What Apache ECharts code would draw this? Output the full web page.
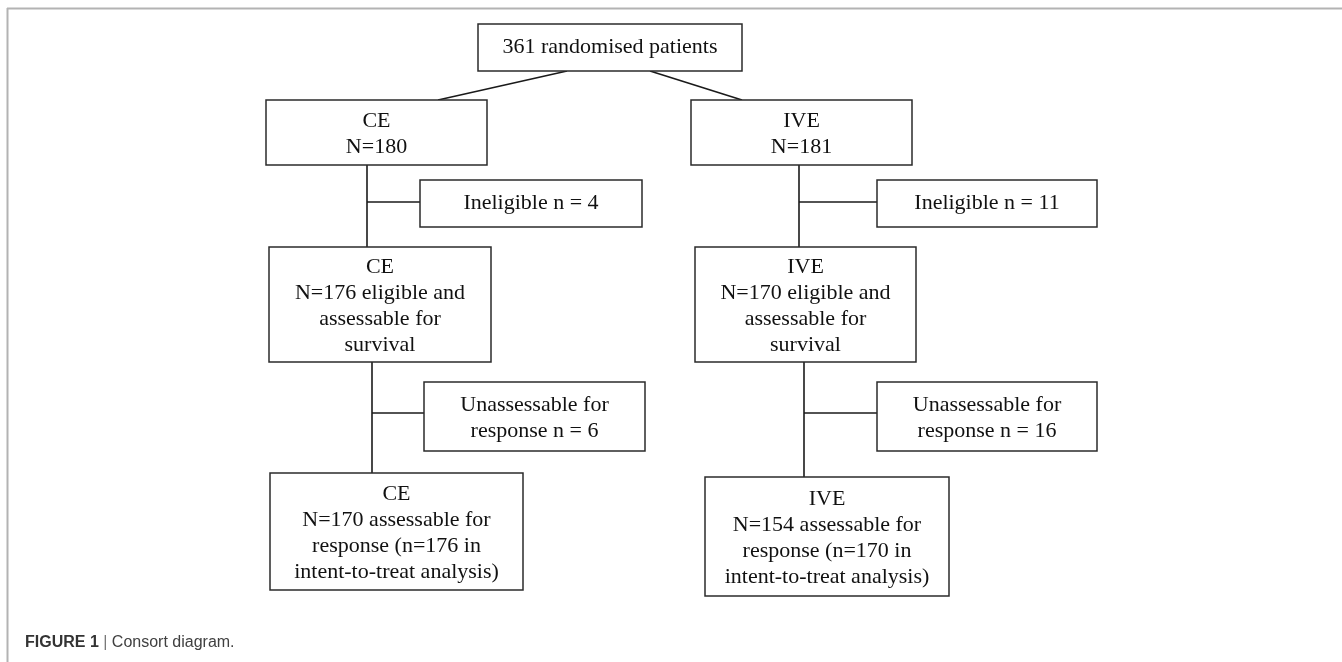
<!DOCTYPE html>
<html>
<head>
<meta charset="utf-8">
<script src="https://cdn.jsdelivr.net/npm/echarts@6/dist/echarts.min.js"></script>
<style>
html,body{margin:0;padding:0;background:#fff;}
#chart{width:1342px;height:662px;}
</style>
</head>
<body>
<div id="chart"></div>
<script>
// ---- data (content of the consort diagram) ----
const armNames = ['CE', 'IVE'];
const randomised = 361;
const allocated = [180, 181];
const ineligible = [4, 11];
const eligible = [176, 170];
const unassessable = [6, 16];
const assessable = [170, 154];
const intentToTreat = [176, 170];
const captionLabel = 'FIGURE 1';
const captionText = 'Consort diagram.';

// ---- box texts built from data ----
const boxTexts = [
  randomised + ' randomised patients',
  armNames[0] + '\nN=' + allocated[0],
  armNames[1] + '\nN=' + allocated[1],
  'Ineligible n = ' + ineligible[0],
  'Ineligible n = ' + ineligible[1],
  armNames[0] + '\nN=' + eligible[0] + ' eligible and\nassessable for\nsurvival',
  armNames[1] + '\nN=' + eligible[1] + ' eligible and\nassessable for\nsurvival',
  'Unassessable for\nresponse n = ' + unassessable[0],
  'Unassessable for\nresponse n = ' + unassessable[1],
  armNames[0] + '\nN=' + assessable[0] + ' assessable for\nresponse (n=' + intentToTreat[0] + ' in\nintent-to-treat analysis)',
  armNames[1] + '\nN=' + assessable[1] + ' assessable for\nresponse (n=' + intentToTreat[1] + ' in\nintent-to-treat analysis)'
];

// ---- layout (diagram coordinates: left, top, right, bottom) ----
const boxLayout = [
  [478, 24, 742, 71],
  [266, 100, 487, 165],
  [691, 100, 912, 165],
  [420, 180, 642, 227],
  [877, 180, 1097, 227],
  [269, 247, 491, 362],
  [695, 247, 916, 362],
  [424, 382, 645, 451],
  [877, 382, 1097, 451],
  [270, 473, 523, 590],
  [705, 477, 949, 596]
];
const connectorLayout = [
  [567, 71, 438, 100],
  [650, 71, 742, 100],
  [367, 165, 367, 247],
  [367, 202, 420, 202],
  [372, 362, 372, 473],
  [372, 413, 424, 413],
  [799, 165, 799, 247],
  [799, 202, 877, 202],
  [804, 362, 804, 477],
  [804, 413, 877, 413]
];
const frameLayout = [
  [7, 8.5, 1342, 8.5],
  [7.5, 8, 7.5, 662]
];

const boxData = boxLayout.map((b, i) => ({ value: b, text: boxTexts[i] }));

const chart = echarts.init(document.getElementById('chart'), null, { renderer: 'canvas' });
chart.setOption({
  animation: false,
  backgroundColor: '#ffffff',
  title: {
    text: '{b|' + captionLabel + '} {s||} {n|' + captionText + '}',
    left: 20,
    top: 630,
    textStyle: {
      fontWeight: 'normal',
      fontSize: 16,
      fontFamily: 'Liberation Sans',
      rich: {
        b: { fontFamily: 'Liberation Sans', fontWeight: 'bold', fontSize: 16, color: '#333333' },
        s: { fontFamily: 'Liberation Sans', fontWeight: 'normal', fontSize: 16, color: '#777777' },
        n: { fontFamily: 'Liberation Sans', fontWeight: 'normal', fontSize: 16, color: '#404040' }
      }
    }
  },
  grid: { left: 0, right: 0, top: 0, bottom: 0 },
  xAxis: { type: 'value', min: 0, max: 1342, show: false },
  yAxis: { type: 'value', min: 0, max: 662, inverse: true, show: false },
  series: [
    {
      type: 'custom',
      name: 'frame',
      silent: true,
      data: frameLayout,
      renderItem: function (params, api) {
        const p1 = api.coord([api.value(0), api.value(1)]);
        const p2 = api.coord([api.value(2), api.value(3)]);
        return {
          type: 'line',
          shape: { x1: p1[0], y1: p1[1], x2: p2[0], y2: p2[1] },
          style: { stroke: '#b3b3b3', lineWidth: 2 }
        };
      }
    },
    {
      type: 'custom',
      name: 'connectors',
      silent: true,
      data: connectorLayout,
      renderItem: function (params, api) {
        const p1 = api.coord([api.value(0), api.value(1)]);
        const p2 = api.coord([api.value(2), api.value(3)]);
        return {
          type: 'line',
          shape: { x1: p1[0], y1: p1[1], x2: p2[0], y2: p2[1] },
          style: { stroke: '#1a1a1a', lineWidth: 1.6 }
        };
      }
    },
    {
      type: 'custom',
      name: 'boxes',
      silent: true,
      data: boxData,
      renderItem: function (params, api) {
        const tl = api.coord([api.value(0), api.value(1)]);
        const br = api.coord([api.value(2), api.value(3)]);
        const txt = boxData[params.dataIndex].text;
        const multi = txt.indexOf('\n') >= 0;
        return {
          type: 'group',
          children: [
            {
              type: 'rect',
              shape: { x: tl[0], y: tl[1], width: br[0] - tl[0], height: br[1] - tl[1] },
              style: { fill: '#ffffff', stroke: '#2b2b2b', lineWidth: 1.5 }
            },
            {
              type: 'text',
              style: {
                text: txt,
                x: (tl[0] + br[0]) / 2,
                y: (tl[1] + br[1]) / 2 + (multi ? 2 : 0),
                align: 'center',
                verticalAlign: 'middle',
                fontFamily: 'Liberation Serif',
                fontSize: 22,
                lineHeight: 26,
                fill: '#111111'
              }
            }
          ]
        };
      }
    }
  ]
});
</script>
</body>
</html>
